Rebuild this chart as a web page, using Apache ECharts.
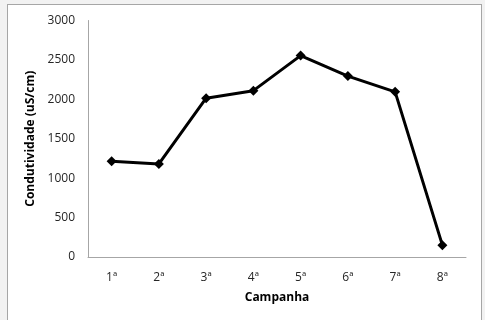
<!DOCTYPE html>
<html>
<head>
<meta charset="utf-8">
<script src="https://cdn.jsdelivr.net/npm/echarts@6/dist/echarts.min.js"></script>
<style>
html,body{margin:0;padding:0;background:#f2f2f2;}
#frame{position:absolute;left:7px;top:4px;width:473px;height:320px;border:1px solid #a6a6a6;border-bottom:none;background:#fff;}
#chart{position:absolute;left:0;top:0;width:485px;height:320px;}
</style>
</head>
<body>
<div id="frame"></div>
<div id="chart"></div>
<script>
const categories = ['1ª','2ª','3ª','4ª','5ª','6ª','7ª','8ª'];
const condutividade = [1215, 1180, 2015, 2110, 2555, 2295, 2095, 150];
const yTicks = [0, 500, 1000, 1500, 2000, 2500, 3000];

const chart = echarts.init(document.getElementById('chart'), null, {renderer:'canvas'});
const font = 'Open Sans, Noto Sans, sans-serif';
chart.setOption({
  backgroundColor: 'transparent',
  animation: false,
  grid: {left: 88, right: 19, top: 20.5, bottom: 63, containLabel: false},
  xAxis: {
    type: 'category',
    data: categories,
    boundaryGap: true,
    name: 'Campanha',
    nameLocation: 'middle',
    nameGap: 35,
    nameTextStyle: {fontFamily: font, fontSize: 12, fontWeight: 'bold', color: '#000'},
    axisLine: {lineStyle: {color: '#a6a6a6', width: 1}},
    axisTick: {show: false},
    axisLabel: {fontFamily: font, fontSize: 12, color: '#262626', margin: 15},
    splitLine: {show: false}
  },
  yAxis: {
    type: 'value',
    min: yTicks[0],
    max: yTicks[yTicks.length - 1],
    interval: yTicks[1] - yTicks[0],
    name: 'Condutividade (uS/cm)',
    nameLocation: 'middle',
    nameGap: 41,
    nameTextStyle: {fontFamily: font, fontSize: 12, fontWeight: 'bold', color: '#000'},
    axisLine: {show: true, lineStyle: {color: '#a6a6a6', width: 1}},
    axisTick: {show: false},
    axisLabel: {fontFamily: font, fontSize: 12, color: '#262626', margin: 13, formatter: v => String(v)},
    splitLine: {show: false}
  },
  series: [{
    type: 'line',
    data: condutividade,
    symbol: 'diamond',
    symbolSize: 10,
    lineStyle: {color: '#000', width: 3},
    itemStyle: {color: '#000'}
  }]
});
</script>
</body>
</html>
